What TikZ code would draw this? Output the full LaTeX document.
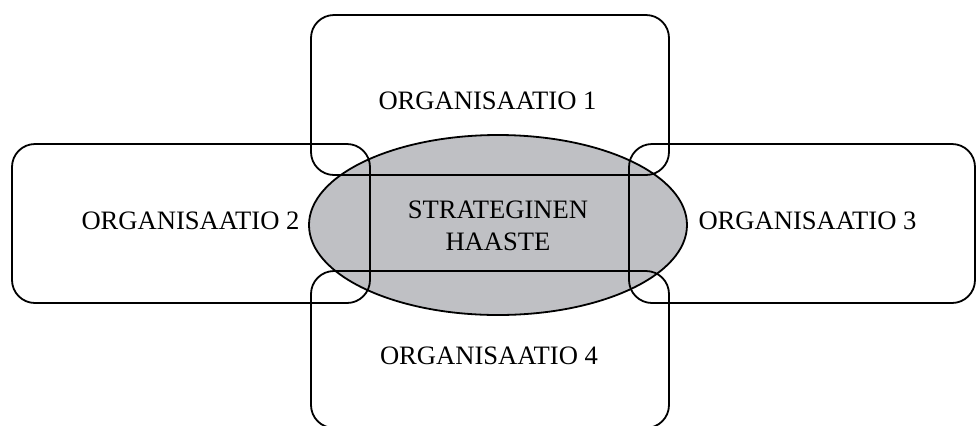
\documentclass[tikz,border=0pt]{standalone}
\usepackage{fontspec}
\setmainfont{Liberation Serif}
\usetikzlibrary{shapes.geometric}
\definecolor{challengegray}{RGB}{191,192,196}
\begin{document}
\begin{tikzpicture}[x=0.5pt,y=-0.5pt,
  orgbox/.style={draw=black, line width=0.9pt, rounded corners=11.5pt,
                 rectangle, inner sep=0pt},
  lbl/.style={font=\fontsize{13.3}{15.8}\selectfont, inner sep=0pt, align=center},
]
\useasboundingbox (0,0) rectangle (976,425);

% central challenge, filled first so the box outlines stay visible over it
\node[ellipse, draw=black, line width=0.9pt, fill=challengegray, inner sep=0pt,
      minimum width=189pt, minimum height=90pt] (challenge) at (498,225) {};

% the four organisations around it
\node[orgbox, minimum width=179pt, minimum height=80pt]   (org1) at (490,95) {};
\node[orgbox, minimum width=179pt, minimum height=79.5pt] (org2) at (191,223.5) {};
\node[orgbox, minimum width=173pt, minimum height=79.5pt] (org3) at (802,223.5) {};
\node[orgbox, minimum width=179pt, minimum height=78.5pt] (org4) at (490,349.5) {};

% labels
\node[lbl] (t1) at (487.5,100.5) {ORGANISAATIO 1};
\node[lbl] (t2) at (190.5,220.5) {ORGANISAATIO 2};
\node[lbl] (t3) at (807.5,220.5) {ORGANISAATIO 3};
\node[lbl] (t4) at (489,356) {ORGANISAATIO 4};
\node[lbl] (tc) at (498,226) {STRATEGINEN\\HAASTE};
\end{tikzpicture}
\end{document}
